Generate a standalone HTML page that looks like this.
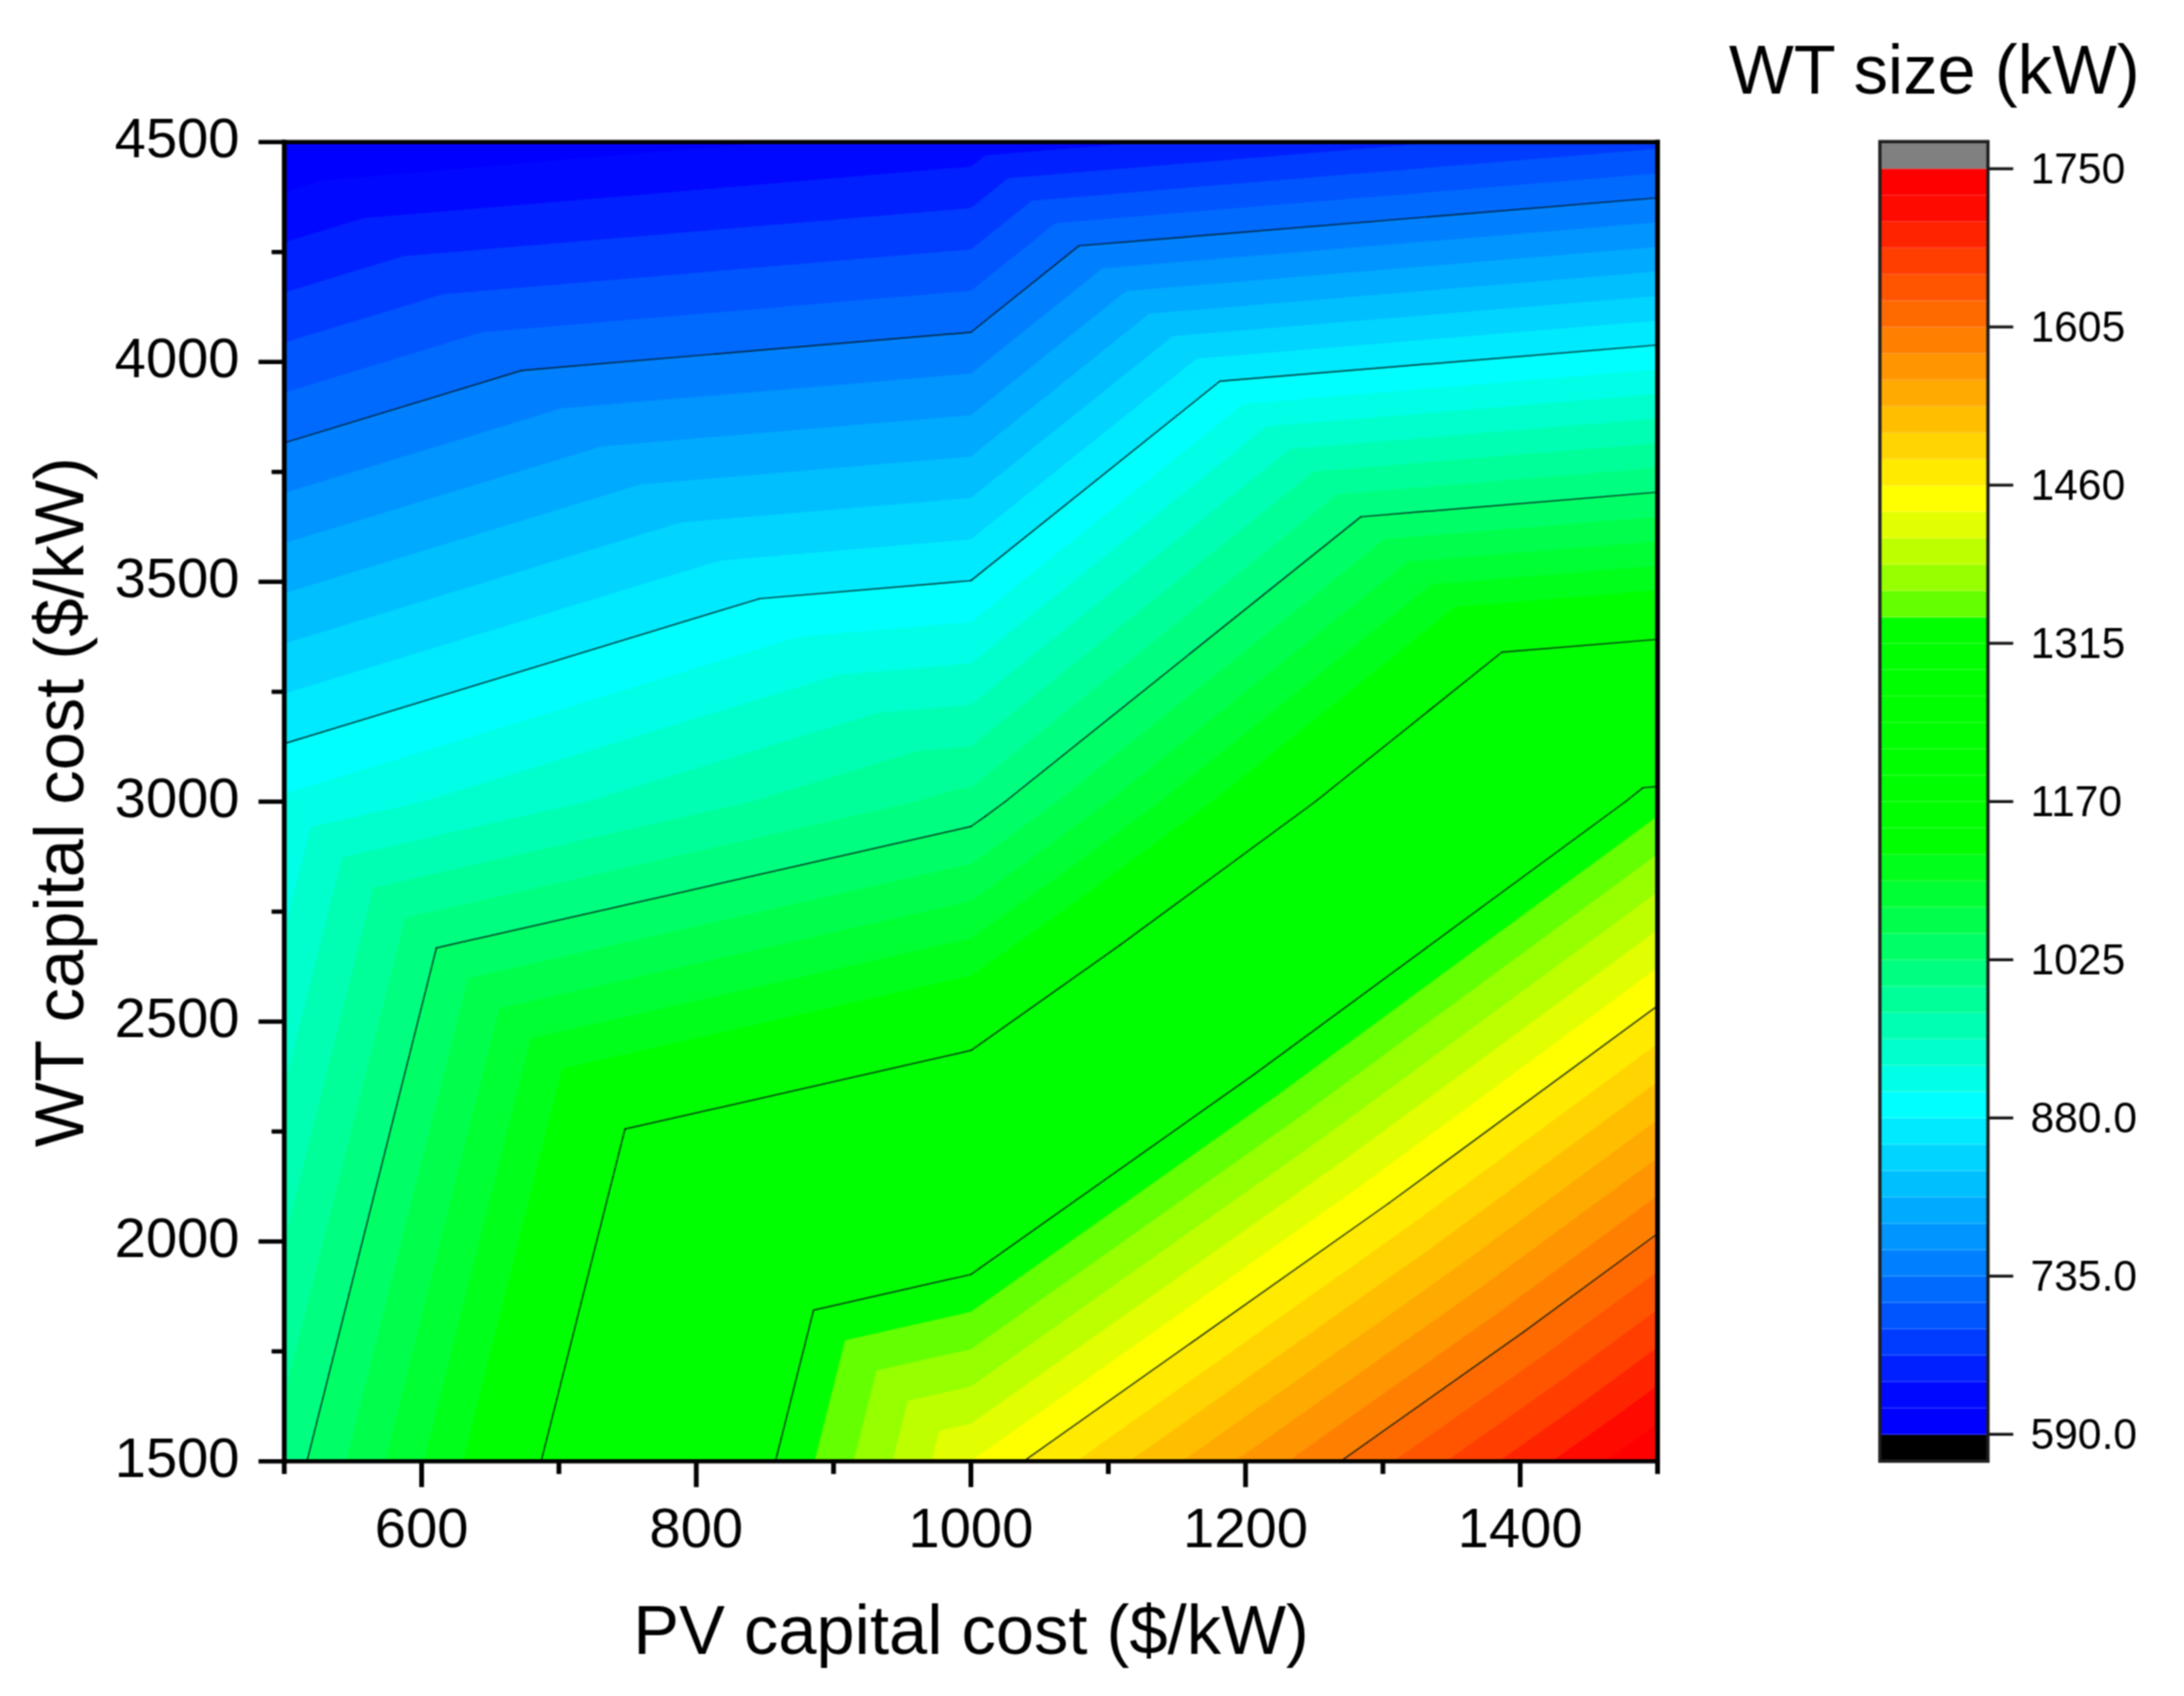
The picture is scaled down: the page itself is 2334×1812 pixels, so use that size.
<!DOCTYPE html>
<html lang="en">
<head>
<meta charset="utf-8">
<title>WT size contour plot</title>
<style>
html,body{margin:0;padding:0;background:#fff;}
body{width:2334px;height:1812px;overflow:hidden;}
svg{display:block;}
</style>
</head>
<body>
<svg width="2334" height="1812" viewBox="0 0 2334 1812">
<defs><filter id="soft" x="0" y="0" width="2334" height="1812" filterUnits="userSpaceOnUse" color-interpolation-filters="sRGB"><feConvolveMatrix order="3" kernelMatrix="1 2 1 2 4 2 1 2 1" divisor="16" edgeMode="duplicate" preserveAlpha="true"/></filter></defs>
<g filter="url(#soft)">
<rect width="2334" height="1812" fill="#fff"/>
<g>
<rect x="303.8" y="151.8" width="1467.6" height="1409.5" fill="#0000ff"/>
<path d="M303.8,1561.3 1037.6,1561.3 303.8,856.5ZM1037.6,1561.3 1037.6,856.5 303.8,856.5ZM303.8,856.5 1037.6,856.5 346.1,192.4 303.8,205.4ZM1037.6,856.5 1037.6,151.8 825.4,151.8 346.1,192.4ZM1037.6,1561.3 1771.4,1561.3 1037.6,856.5ZM1771.4,1561.3 1771.4,856.5 1037.6,856.5ZM1037.6,856.5 1771.4,856.5 1037.6,151.8ZM1771.4,856.5 1771.4,151.8 1037.6,151.8Z" fill="#0008ff"/>
<path d="M303.8,1561.3 1037.6,1561.3 303.8,856.5ZM1037.6,1561.3 1037.6,856.5 303.8,856.5ZM303.8,856.5 1037.6,856.5 388.4,233.1 303.8,258.9ZM1037.6,856.5 1037.6,178 388.4,233.1ZM1037.6,1561.3 1771.4,1561.3 1037.6,856.5ZM1771.4,1561.3 1771.4,856.5 1037.6,856.5ZM1037.6,856.5 1771.4,856.5 1052.5,166.1 1037.6,178ZM1771.4,856.5 1771.4,151.8 1225.4,151.8 1052.5,166.1Z" fill="#0020ff"/>
<path d="M303.8,1561.3 1037.6,1561.3 303.8,856.5ZM1037.6,1561.3 1037.6,856.5 303.8,856.5ZM303.8,856.5 1037.6,856.5 430.8,273.7 303.8,312.5ZM1037.6,856.5 1037.6,222.3 430.8,273.7ZM1037.6,1561.3 1771.4,1561.3 1037.6,856.5ZM1771.4,1561.3 1771.4,856.5 1037.6,856.5ZM1037.6,856.5 1771.4,856.5 1077.6,190.2 1037.6,222.3ZM1771.4,856.5 1771.4,151.8 1542.1,151.8 1077.6,190.2Z" fill="#003cff"/>
<path d="M303.8,1561.3 1037.6,1561.3 303.8,856.5ZM1037.6,1561.3 1037.6,856.5 303.8,856.5ZM303.8,856.5 1037.6,856.5 473.1,314.4 303.8,366ZM1037.6,856.5 1037.6,266.5 473.1,314.4ZM1037.6,1561.3 1771.4,1561.3 1037.6,856.5ZM1771.4,1561.3 1771.4,856.5 1037.6,856.5ZM1037.6,856.5 1771.4,856.5 1102.7,214.4 1037.6,266.5ZM1771.4,856.5 1771.4,159 1102.7,214.4Z" fill="#0055ff"/>
<path d="M303.8,1561.3 1037.6,1561.3 303.8,856.5ZM1037.6,1561.3 1037.6,856.5 303.8,856.5ZM303.8,856.5 1037.6,856.5 515.4,355 303.8,419.6ZM1037.6,856.5 1037.6,310.8 515.4,355ZM1037.6,1561.3 1771.4,1561.3 1037.6,856.5ZM1771.4,1561.3 1771.4,856.5 1037.6,856.5ZM1037.6,856.5 1771.4,856.5 1127.9,238.5 1037.6,310.8ZM1771.4,856.5 1771.4,185.2 1127.9,238.5Z" fill="#006aff"/>
<path d="M303.8,1561.3 1037.6,1561.3 303.8,856.5ZM1037.6,1561.3 1037.6,856.5 303.8,856.5ZM303.8,856.5 1037.6,856.5 557.7,395.7 303.8,473.1ZM1037.6,856.5 1037.6,355 557.7,395.7ZM1037.6,1561.3 1771.4,1561.3 1037.6,856.5ZM1771.4,1561.3 1771.4,856.5 1037.6,856.5ZM1037.6,856.5 1771.4,856.5 1153,262.6 1037.6,355ZM1771.4,856.5 1771.4,211.4 1153,262.6Z" fill="#0080ff"/>
<path d="M303.8,1561.3 1037.6,1561.3 303.8,856.5ZM1037.6,1561.3 1037.6,856.5 303.8,856.5ZM303.8,856.5 1037.6,856.5 600.1,436.3 303.8,526.7ZM1037.6,856.5 1037.6,399.2 600.1,436.3ZM1037.6,1561.3 1771.4,1561.3 1037.6,856.5ZM1771.4,1561.3 1771.4,856.5 1037.6,856.5ZM1037.6,856.5 1771.4,856.5 1178.1,286.7 1037.6,399.2ZM1771.4,856.5 1771.4,237.6 1178.1,286.7Z" fill="#0095ff"/>
<path d="M303.8,1561.3 1037.6,1561.3 303.8,856.5ZM1037.6,1561.3 1037.6,856.5 303.8,856.5ZM303.8,856.5 1037.6,856.5 642.4,477 303.8,580.3ZM1037.6,856.5 1037.6,443.5 642.4,477ZM1037.6,1561.3 1771.4,1561.3 1037.6,856.5ZM1771.4,1561.3 1771.4,856.5 1037.6,856.5ZM1037.6,856.5 1771.4,856.5 1203.2,310.9 1037.6,443.5ZM1771.4,856.5 1771.4,263.8 1203.2,310.9Z" fill="#00aaff"/>
<path d="M303.8,1561.3 1037.6,1561.3 303.8,856.5ZM1037.6,1561.3 1037.6,856.5 303.8,856.5ZM303.8,856.5 1037.6,856.5 684.7,517.6 303.8,633.8ZM1037.6,856.5 1037.6,487.7 684.7,517.6ZM1037.6,1561.3 1771.4,1561.3 1037.6,856.5ZM1771.4,1561.3 1771.4,856.5 1037.6,856.5ZM1037.6,856.5 1771.4,856.5 1228.3,335 1037.6,487.7ZM1771.4,856.5 1771.4,290 1228.3,335Z" fill="#00bfff"/>
<path d="M303.8,1561.3 1037.6,1561.3 303.8,856.5ZM1037.6,1561.3 1037.6,856.5 303.8,856.5ZM303.8,856.5 1037.6,856.5 727,558.3 303.8,687.4ZM1037.6,856.5 1037.6,531.9 727,558.3ZM1037.6,1561.3 1771.4,1561.3 1037.6,856.5ZM1771.4,1561.3 1771.4,856.5 1037.6,856.5ZM1037.6,856.5 1771.4,856.5 1253.4,359.1 1037.6,531.9ZM1771.4,856.5 1771.4,316.2 1253.4,359.1Z" fill="#00d4ff"/>
<path d="M303.8,1561.3 1037.6,1561.3 303.8,856.5ZM1037.6,1561.3 1037.6,856.5 303.8,856.5ZM303.8,856.5 1037.6,856.5 769.4,598.9 303.8,740.9ZM1037.6,856.5 1037.6,576.2 769.4,598.9ZM1037.6,1561.3 1771.4,1561.3 1037.6,856.5ZM1771.4,1561.3 1771.4,856.5 1037.6,856.5ZM1037.6,856.5 1771.4,856.5 1278.6,383.2 1037.6,576.2ZM1771.4,856.5 1771.4,342.4 1278.6,383.2Z" fill="#00eaff"/>
<path d="M303.8,1561.3 1037.6,1561.3 303.8,856.5ZM1037.6,1561.3 1037.6,856.5 303.8,856.5ZM303.8,856.5 1037.6,856.5 811.7,639.6 303.8,794.5ZM1037.6,856.5 1037.6,620.4 811.7,639.6ZM1037.6,1561.3 1771.4,1561.3 1037.6,856.5ZM1771.4,1561.3 1771.4,856.5 1037.6,856.5ZM1037.6,856.5 1771.4,856.5 1303.7,407.3 1037.6,620.4ZM1771.4,856.5 1771.4,368.6 1303.7,407.3Z" fill="#00ffff"/>
<path d="M303.8,1561.3 1037.6,1561.3 303.8,856.5ZM1037.6,1561.3 1037.6,856.5 303.8,856.5ZM303.8,856.5 1037.6,856.5 854,680.2 303.8,848.1ZM1037.6,856.5 1037.6,664.7 854,680.2ZM1037.6,1561.3 1771.4,1561.3 1037.6,856.5ZM1771.4,1561.3 1771.4,856.5 1037.6,856.5ZM1037.6,856.5 1771.4,856.5 1328.8,431.5 1037.6,664.7ZM1771.4,856.5 1771.4,394.8 1328.8,431.5Z" fill="#00ffe6"/>
<path d="M303.8,1561.3 1037.6,1561.3 332.1,883.7 303.8,995.7ZM1037.6,1561.3 1037.6,856.5 451.5,856.5 332.1,883.7ZM451.5,856.5 1037.6,856.5 896.3,720.9ZM1037.6,856.5 1037.6,708.9 896.3,720.9ZM1037.6,1561.3 1771.4,1561.3 1037.6,856.5ZM1771.4,1561.3 1771.4,856.5 1037.6,856.5ZM1037.6,856.5 1771.4,856.5 1353.9,455.6 1037.6,708.9ZM1771.4,856.5 1771.4,421.1 1353.9,455.6Z" fill="#00ffcc"/>
<path d="M303.8,1561.3 1037.6,1561.3 365.6,915.9 303.8,1161ZM1037.6,1561.3 1037.6,856.5 627.1,856.5 365.6,915.9ZM627.1,856.5 1037.6,856.5 938.7,761.5ZM1037.6,856.5 1037.6,753.1 938.7,761.5ZM1037.6,1561.3 1771.4,1561.3 1037.6,856.5ZM1771.4,1561.3 1771.4,856.5 1037.6,856.5ZM1037.6,856.5 1771.4,856.5 1379,479.7 1037.6,753.1ZM1771.4,856.5 1771.4,447.3 1379,479.7Z" fill="#00ffb2"/>
<path d="M303.8,1561.3 1037.6,1561.3 399.2,948.2 303.8,1326.4ZM1037.6,1561.3 1037.6,856.5 802.7,856.5 399.2,948.2ZM802.7,856.5 1037.6,856.5 981,802.2ZM1037.6,856.5 1037.6,797.4 981,802.2ZM1037.6,1561.3 1771.4,1561.3 1037.6,856.5ZM1771.4,1561.3 1771.4,856.5 1037.6,856.5ZM1037.6,856.5 1771.4,856.5 1404.2,503.8 1037.6,797.4ZM1771.4,856.5 1771.4,473.5 1404.2,503.8Z" fill="#00ff99"/>
<path d="M303.8,1561.3 1037.6,1561.3 432.8,980.5 303.8,1491.7ZM1037.6,1561.3 1037.6,856.5 978.3,856.5 432.8,980.5ZM978.3,856.5 1037.6,856.5 1023.3,842.8ZM1037.6,856.5 1037.6,841.6 1023.3,842.8ZM1037.6,1561.3 1771.4,1561.3 1037.6,856.5ZM1771.4,1561.3 1771.4,856.5 1037.6,856.5ZM1037.6,856.5 1771.4,856.5 1429.3,528 1037.6,841.6ZM1771.4,856.5 1771.4,499.7 1429.3,528Z" fill="#00ff80"/>
<path d="M328,1561.3 1037.6,1561.3 466.4,1012.7ZM1037.6,1561.3 1037.6,883 466.4,1012.7ZM1037.6,1561.3 1771.4,1561.3 1053.4,871.8 1037.6,883ZM1771.4,1561.3 1771.4,856.5 1074.2,856.5 1053.4,871.8ZM1074.2,856.5 1771.4,856.5 1454.4,552.1ZM1771.4,856.5 1771.4,525.9 1454.4,552.1Z" fill="#00ff66"/>
<path d="M369.7,1561.3 1037.6,1561.3 500,1045ZM1037.6,1561.3 1037.6,922.8 500,1045ZM1037.6,1561.3 1771.4,1561.3 1077.4,894.8 1037.6,922.8ZM1771.4,1561.3 1771.4,856.5 1129.4,856.5 1077.4,894.8ZM1129.4,856.5 1771.4,856.5 1479.5,576.2ZM1771.4,856.5 1771.4,552.1 1479.5,576.2Z" fill="#00ff4c"/>
<path d="M411.4,1561.3 1037.6,1561.3 533.6,1077.2ZM1037.6,1561.3 1037.6,962.7 533.6,1077.2ZM1037.6,1561.3 1771.4,1561.3 1101.3,917.7 1037.6,962.7ZM1771.4,1561.3 1771.4,856.5 1184.7,856.5 1101.3,917.7ZM1184.7,856.5 1771.4,856.5 1504.6,600.3ZM1771.4,856.5 1771.4,578.3 1504.6,600.3Z" fill="#00ff33"/>
<path d="M453.1,1561.3 1037.6,1561.3 567.2,1109.5ZM1037.6,1561.3 1037.6,1002.6 567.2,1109.5ZM1037.6,1561.3 1771.4,1561.3 1125.2,940.7 1037.6,1002.6ZM1771.4,1561.3 1771.4,856.5 1239.9,856.5 1125.2,940.7ZM1239.9,856.5 1771.4,856.5 1529.7,624.5ZM1771.4,856.5 1771.4,604.5 1529.7,624.5Z" fill="#00ff1a"/>
<path d="M494.9,1561.3 1037.6,1561.3 600.7,1141.7ZM1037.6,1561.3 1037.6,1042.5 600.7,1141.7ZM1037.6,1561.3 1771.4,1561.3 1149.2,963.7 1037.6,1042.5ZM1771.4,1561.3 1771.4,856.5 1295.2,856.5 1149.2,963.7ZM1295.2,856.5 1771.4,856.5 1554.9,648.6ZM1771.4,856.5 1771.4,630.7 1554.9,648.6Z" fill="#00ff00"/>
<path d="M536.6,1561.3 1037.6,1561.3 634.3,1174ZM1037.6,1561.3 1037.6,1082.4 634.3,1174ZM1037.6,1561.3 1771.4,1561.3 1173.1,986.7 1037.6,1082.4ZM1771.4,1561.3 1771.4,856.5 1350.4,856.5 1173.1,986.7ZM1350.4,856.5 1771.4,856.5 1580,672.7ZM1771.4,856.5 1771.4,656.9 1580,672.7Z" fill="#00ff00"/>
<path d="M578.3,1561.3 1037.6,1561.3 667.9,1206.3ZM1037.6,1561.3 1037.6,1122.3 667.9,1206.3ZM1037.6,1561.3 1771.4,1561.3 1197,1009.7 1037.6,1122.3ZM1771.4,1561.3 1771.4,856.5 1405.6,856.5 1197,1009.7ZM1405.6,856.5 1771.4,856.5 1605.1,696.8ZM1771.4,856.5 1771.4,683.1 1605.1,696.8Z" fill="#00ff00"/>
<path d="M620.1,1561.3 1037.6,1561.3 701.5,1238.5ZM1037.6,1561.3 1037.6,1162.2 701.5,1238.5ZM1037.6,1561.3 1771.4,1561.3 1221,1032.7 1037.6,1162.2ZM1771.4,1561.3 1771.4,856.5 1460.9,856.5 1221,1032.7ZM1460.9,856.5 1771.4,856.5 1630.2,721ZM1771.4,856.5 1771.4,709.3 1630.2,721Z" fill="#00ff00"/>
<path d="M661.8,1561.3 1037.6,1561.3 735.1,1270.8ZM1037.6,1561.3 1037.6,1202 735.1,1270.8ZM1037.6,1561.3 1771.4,1561.3 1244.9,1055.6 1037.6,1202ZM1771.4,1561.3 1771.4,856.5 1516.1,856.5 1244.9,1055.6ZM1516.1,856.5 1771.4,856.5 1655.3,745.1ZM1771.4,856.5 1771.4,735.5 1655.3,745.1Z" fill="#00ff00"/>
<path d="M703.5,1561.3 1037.6,1561.3 768.7,1303ZM1037.6,1561.3 1037.6,1241.9 768.7,1303ZM1037.6,1561.3 1771.4,1561.3 1268.8,1078.6 1037.6,1241.9ZM1771.4,1561.3 1771.4,856.5 1571.4,856.5 1268.8,1078.6ZM1571.4,856.5 1771.4,856.5 1680.5,769.2ZM1771.4,856.5 1771.4,761.7 1680.5,769.2Z" fill="#00ff00"/>
<path d="M745.2,1561.3 1037.6,1561.3 802.3,1335.3ZM1037.6,1561.3 1037.6,1281.8 802.3,1335.3ZM1037.6,1561.3 1771.4,1561.3 1292.8,1101.6 1037.6,1281.8ZM1771.4,1561.3 1771.4,856.5 1626.6,856.5 1292.8,1101.6ZM1626.6,856.5 1771.4,856.5 1705.6,793.3ZM1771.4,856.5 1771.4,787.9 1705.6,793.3Z" fill="#00ff00"/>
<path d="M787,1561.3 1037.6,1561.3 835.9,1367.5ZM1037.6,1561.3 1037.6,1321.7 835.9,1367.5ZM1037.6,1561.3 1771.4,1561.3 1316.7,1124.6 1037.6,1321.7ZM1771.4,1561.3 1771.4,856.5 1681.9,856.5 1316.7,1124.6ZM1681.9,856.5 1771.4,856.5 1730.7,817.5ZM1771.4,856.5 1771.4,814.1 1730.7,817.5Z" fill="#00ff00"/>
<path d="M828.7,1561.3 1037.6,1561.3 869.4,1399.8ZM1037.6,1561.3 1037.6,1361.6 869.4,1399.8ZM1037.6,1561.3 1771.4,1561.3 1340.6,1147.6 1037.6,1361.6ZM1771.4,1561.3 1771.4,856.5 1737.1,856.5 1340.6,1147.6ZM1737.1,856.5 1771.4,856.5 1755.8,841.6ZM1771.4,856.5 1771.4,840.3 1755.8,841.6Z" fill="#00ff00"/>
<path d="M870.4,1561.3 1037.6,1561.3 903,1432.1ZM1037.6,1561.3 1037.6,1401.5 903,1432.1ZM1037.6,1561.3 1771.4,1561.3 1364.6,1170.6 1037.6,1401.5ZM1771.4,1561.3 1771.4,871.9 1364.6,1170.6Z" fill="#64ff00"/>
<path d="M912.1,1561.3 1037.6,1561.3 936.6,1464.3ZM1037.6,1561.3 1037.6,1441.4 936.6,1464.3ZM1037.6,1561.3 1771.4,1561.3 1388.5,1193.5 1037.6,1441.4ZM1771.4,1561.3 1771.4,912.5 1388.5,1193.5Z" fill="#96ff00"/>
<path d="M953.9,1561.3 1037.6,1561.3 970.2,1496.6ZM1037.6,1561.3 1037.6,1481.3 970.2,1496.6ZM1037.6,1561.3 1771.4,1561.3 1412.4,1216.5 1037.6,1481.3ZM1771.4,1561.3 1771.4,953 1412.4,1216.5Z" fill="#beff00"/>
<path d="M995.6,1561.3 1037.6,1561.3 1003.8,1528.8ZM1037.6,1561.3 1037.6,1521.1 1003.8,1528.8ZM1037.6,1561.3 1771.4,1561.3 1436.4,1239.5 1037.6,1521.1ZM1771.4,1561.3 1771.4,993.6 1436.4,1239.5Z" fill="#e1ff00"/>
<path d="M1037.3,1561.3 1037.6,1561.3 1037.4,1561.1ZM1037.6,1561.3 1037.6,1561 1037.4,1561.1ZM1037.6,1561.3 1771.4,1561.3 1460.3,1262.5 1037.6,1561ZM1771.4,1561.3 1771.4,1034.1 1460.3,1262.5Z" fill="#ffff00"/>
<path d="M1093.7,1561.3 1771.4,1561.3 1484.2,1285.5ZM1771.4,1561.3 1771.4,1074.7 1484.2,1285.5Z" fill="#ffea00"/>
<path d="M1150.2,1561.3 1771.4,1561.3 1508.1,1308.5ZM1771.4,1561.3 1771.4,1115.2 1508.1,1308.5Z" fill="#ffd400"/>
<path d="M1206.6,1561.3 1771.4,1561.3 1532.1,1331.5ZM1771.4,1561.3 1771.4,1155.8 1532.1,1331.5Z" fill="#ffbf00"/>
<path d="M1263.1,1561.3 1771.4,1561.3 1556,1354.4ZM1771.4,1561.3 1771.4,1196.3 1556,1354.4Z" fill="#ffaa00"/>
<path d="M1319.6,1561.3 1771.4,1561.3 1579.9,1377.4ZM1771.4,1561.3 1771.4,1236.9 1579.9,1377.4Z" fill="#ff9500"/>
<path d="M1376.1,1561.3 1771.4,1561.3 1603.9,1400.4ZM1771.4,1561.3 1771.4,1277.4 1603.9,1400.4Z" fill="#ff8000"/>
<path d="M1432.5,1561.3 1771.4,1561.3 1627.8,1423.4ZM1771.4,1561.3 1771.4,1318 1627.8,1423.4Z" fill="#ff6a00"/>
<path d="M1489,1561.3 1771.4,1561.3 1651.7,1446.4ZM1771.4,1561.3 1771.4,1358.5 1651.7,1446.4Z" fill="#ff5500"/>
<path d="M1545.5,1561.3 1771.4,1561.3 1675.7,1469.4ZM1771.4,1561.3 1771.4,1399.1 1675.7,1469.4Z" fill="#ff3e00"/>
<path d="M1602,1561.3 1771.4,1561.3 1699.6,1492.3ZM1771.4,1561.3 1771.4,1439.6 1699.6,1492.3Z" fill="#ff2400"/>
<path d="M1658.4,1561.3 1771.4,1561.3 1723.5,1515.3ZM1771.4,1561.3 1771.4,1480.2 1723.5,1515.3Z" fill="#ff0a00"/>
<path d="M1714.9,1561.3 1771.4,1561.3 1747.5,1538.3ZM1771.4,1561.3 1771.4,1520.7 1747.5,1538.3Z" fill="#ff0000"/>
</g>
<g stroke="#001818" stroke-opacity="0.85" stroke-width="1.45" stroke-linecap="round">
<line x1="328" y1="1561.3" x2="466.4" y2="1012.7"/>
<line x1="578.3" y1="1561.3" x2="667.9" y2="1206.3"/>
<line x1="828.7" y1="1561.3" x2="869.4" y2="1399.8"/>
<line x1="1037.6" y1="883" x2="466.4" y2="1012.7"/>
<line x1="1037.6" y1="1122.3" x2="667.9" y2="1206.3"/>
<line x1="1037.6" y1="1361.6" x2="869.4" y2="1399.8"/>
<line x1="557.7" y1="395.7" x2="303.8" y2="473.1"/>
<line x1="811.7" y1="639.6" x2="303.8" y2="794.5"/>
<line x1="1037.6" y1="355" x2="557.7" y2="395.7"/>
<line x1="1037.6" y1="620.4" x2="811.7" y2="639.6"/>
<line x1="1053.4" y1="871.8" x2="1037.6" y2="883"/>
<line x1="1197" y1="1009.7" x2="1037.6" y2="1122.3"/>
<line x1="1340.6" y1="1147.6" x2="1037.6" y2="1361.6"/>
<line x1="1093.7" y1="1561.3" x2="1484.2" y2="1285.5"/>
<line x1="1432.5" y1="1561.3" x2="1627.8" y2="1423.4"/>
<line x1="1074.2" y1="856.5" x2="1053.4" y2="871.8"/>
<line x1="1405.6" y1="856.5" x2="1197" y2="1009.7"/>
<line x1="1737.1" y1="856.5" x2="1340.6" y2="1147.6"/>
<line x1="1771.4" y1="1074.7" x2="1484.2" y2="1285.5"/>
<line x1="1771.4" y1="1318" x2="1627.8" y2="1423.4"/>
<line x1="1153" y1="262.6" x2="1037.6" y2="355"/>
<line x1="1303.7" y1="407.3" x2="1037.6" y2="620.4"/>
<line x1="1074.2" y1="856.5" x2="1454.4" y2="552.1"/>
<line x1="1405.6" y1="856.5" x2="1605.1" y2="696.8"/>
<line x1="1737.1" y1="856.5" x2="1755.8" y2="841.6"/>
<line x1="1771.4" y1="211.4" x2="1153" y2="262.6"/>
<line x1="1771.4" y1="368.6" x2="1303.7" y2="407.3"/>
<line x1="1771.4" y1="525.9" x2="1454.4" y2="552.1"/>
<line x1="1771.4" y1="683.1" x2="1605.1" y2="696.8"/>
<line x1="1771.4" y1="840.3" x2="1755.8" y2="841.6"/>
</g>
<g stroke="#000" stroke-width="5.1">
<line x1="303.8" y1="149.5" x2="303.8" y2="1563.6"/>
<line x1="1771.4" y1="149.5" x2="1771.4" y2="1563.6"/>
<line x1="303.8" y1="1561.3" x2="303.8" y2="1574.8"/>
<line x1="450.6" y1="1561.3" x2="450.6" y2="1588.8"/>
<line x1="597.3" y1="1561.3" x2="597.3" y2="1574.8"/>
<line x1="744.1" y1="1561.3" x2="744.1" y2="1588.8"/>
<line x1="890.8" y1="1561.3" x2="890.8" y2="1574.8"/>
<line x1="1037.6" y1="1561.3" x2="1037.6" y2="1588.8"/>
<line x1="1184.4" y1="1561.3" x2="1184.4" y2="1574.8"/>
<line x1="1331.1" y1="1561.3" x2="1331.1" y2="1588.8"/>
<line x1="1477.9" y1="1561.3" x2="1477.9" y2="1574.8"/>
<line x1="1624.6" y1="1561.3" x2="1624.6" y2="1588.8"/>
<line x1="1771.4" y1="1561.3" x2="1771.4" y2="1574.8"/>
</g>
<g stroke="#000" stroke-width="4.6">
<line x1="301.2" y1="151.8" x2="1774" y2="151.8"/>
<line x1="301.2" y1="1561.3" x2="1774" y2="1561.3"/>
<line x1="303.8" y1="1561.3" x2="276.3" y2="1561.3"/>
<line x1="303.8" y1="1443.8" x2="290.3" y2="1443.8"/>
<line x1="303.8" y1="1326.4" x2="276.3" y2="1326.4"/>
<line x1="303.8" y1="1208.9" x2="290.3" y2="1208.9"/>
<line x1="303.8" y1="1091.5" x2="276.3" y2="1091.5"/>
<line x1="303.8" y1="974" x2="290.3" y2="974"/>
<line x1="303.8" y1="856.5" x2="276.3" y2="856.5"/>
<line x1="303.8" y1="739.1" x2="290.3" y2="739.1"/>
<line x1="303.8" y1="621.6" x2="276.3" y2="621.6"/>
<line x1="303.8" y1="504.2" x2="290.3" y2="504.2"/>
<line x1="303.8" y1="386.7" x2="276.3" y2="386.7"/>
<line x1="303.8" y1="269.3" x2="290.3" y2="269.3"/>
<line x1="303.8" y1="151.8" x2="276.3" y2="151.8"/>
</g>
<g font-family="'Liberation Sans', sans-serif" font-size="60" fill="#000">
<text x="450.6" y="1652.5" text-anchor="middle">600</text>
<text x="744.1" y="1652.5" text-anchor="middle">800</text>
<text x="1037.6" y="1652.5" text-anchor="middle">1000</text>
<text x="1331.1" y="1652.5" text-anchor="middle">1200</text>
<text x="1624.6" y="1652.5" text-anchor="middle">1400</text>
<text x="256" y="1577.8" text-anchor="end">1500</text>
<text x="256" y="1342.9" text-anchor="end">2000</text>
<text x="256" y="1108" text-anchor="end">2500</text>
<text x="256" y="873" text-anchor="end">3000</text>
<text x="256" y="638.1" text-anchor="end">3500</text>
<text x="256" y="403.2" text-anchor="end">4000</text>
<text x="256" y="168.3" text-anchor="end">4500</text>
</g>
<g font-family="'Liberation Sans', sans-serif" font-size="73.4" fill="#000">
<text x="1037.7" y="1767" text-anchor="middle">PV capital cost ($/kW)</text>
<text transform="translate(88.5 857) rotate(-90)" text-anchor="middle">WT capital cost ($/kW)</text>
<text x="2067.2" y="99.5" text-anchor="middle">WT size (kW)</text>
</g>
<rect x="2009" y="151.3" width="115.5" height="30" fill="#808080"/>
<rect x="2009" y="1532.4" width="115.5" height="28.7" fill="#000"/>
<rect x="2009" y="1504.23" width="115.5" height="28.77" fill="#0000ff"/>
<rect x="2009" y="1476.06" width="115.5" height="28.77" fill="#0008ff"/>
<rect x="2009" y="1447.89" width="115.5" height="28.77" fill="#0020ff"/>
<rect x="2009" y="1419.73" width="115.5" height="28.77" fill="#003cff"/>
<rect x="2009" y="1391.56" width="115.5" height="28.77" fill="#0055ff"/>
<rect x="2009" y="1363.39" width="115.5" height="28.77" fill="#006aff"/>
<rect x="2009" y="1335.22" width="115.5" height="28.77" fill="#0080ff"/>
<rect x="2009" y="1307.05" width="115.5" height="28.77" fill="#0095ff"/>
<rect x="2009" y="1278.88" width="115.5" height="28.77" fill="#00aaff"/>
<rect x="2009" y="1250.71" width="115.5" height="28.77" fill="#00bfff"/>
<rect x="2009" y="1222.54" width="115.5" height="28.77" fill="#00d4ff"/>
<rect x="2009" y="1194.38" width="115.5" height="28.77" fill="#00eaff"/>
<rect x="2009" y="1166.21" width="115.5" height="28.77" fill="#00ffff"/>
<rect x="2009" y="1138.04" width="115.5" height="28.77" fill="#00ffe6"/>
<rect x="2009" y="1109.87" width="115.5" height="28.77" fill="#00ffcc"/>
<rect x="2009" y="1081.70" width="115.5" height="28.77" fill="#00ffb2"/>
<rect x="2009" y="1053.53" width="115.5" height="28.77" fill="#00ff99"/>
<rect x="2009" y="1025.36" width="115.5" height="28.77" fill="#00ff80"/>
<rect x="2009" y="997.19" width="115.5" height="28.77" fill="#00ff66"/>
<rect x="2009" y="969.03" width="115.5" height="28.77" fill="#00ff4c"/>
<rect x="2009" y="940.86" width="115.5" height="28.77" fill="#00ff33"/>
<rect x="2009" y="912.69" width="115.5" height="28.77" fill="#00ff1a"/>
<rect x="2009" y="884.52" width="115.5" height="28.77" fill="#00ff00"/>
<rect x="2009" y="856.35" width="115.5" height="28.77" fill="#00ff00"/>
<rect x="2009" y="828.18" width="115.5" height="28.77" fill="#00ff00"/>
<rect x="2009" y="800.01" width="115.5" height="28.77" fill="#00ff00"/>
<rect x="2009" y="771.84" width="115.5" height="28.77" fill="#00ff00"/>
<rect x="2009" y="743.67" width="115.5" height="28.77" fill="#00ff00"/>
<rect x="2009" y="715.51" width="115.5" height="28.77" fill="#00ff00"/>
<rect x="2009" y="687.34" width="115.5" height="28.77" fill="#00ff00"/>
<rect x="2009" y="659.17" width="115.5" height="28.77" fill="#00ff00"/>
<rect x="2009" y="631.00" width="115.5" height="28.77" fill="#64ff00"/>
<rect x="2009" y="602.83" width="115.5" height="28.77" fill="#96ff00"/>
<rect x="2009" y="574.66" width="115.5" height="28.77" fill="#beff00"/>
<rect x="2009" y="546.49" width="115.5" height="28.77" fill="#e1ff00"/>
<rect x="2009" y="518.33" width="115.5" height="28.77" fill="#ffff00"/>
<rect x="2009" y="490.16" width="115.5" height="28.77" fill="#ffea00"/>
<rect x="2009" y="461.99" width="115.5" height="28.77" fill="#ffd400"/>
<rect x="2009" y="433.82" width="115.5" height="28.77" fill="#ffbf00"/>
<rect x="2009" y="405.65" width="115.5" height="28.77" fill="#ffaa00"/>
<rect x="2009" y="377.48" width="115.5" height="28.77" fill="#ff9500"/>
<rect x="2009" y="349.31" width="115.5" height="28.77" fill="#ff8000"/>
<rect x="2009" y="321.14" width="115.5" height="28.77" fill="#ff6a00"/>
<rect x="2009" y="292.97" width="115.5" height="28.77" fill="#ff5500"/>
<rect x="2009" y="264.81" width="115.5" height="28.77" fill="#ff3e00"/>
<rect x="2009" y="236.64" width="115.5" height="28.77" fill="#ff2400"/>
<rect x="2009" y="208.47" width="115.5" height="28.77" fill="#ff0a00"/>
<rect x="2009" y="180.30" width="115.5" height="28.77" fill="#ff0000"/>
<path d="M2009,1532.40H2124.5M2009,1504.23H2124.5M2009,1476.06H2124.5M2009,1447.89H2124.5M2009,1419.73H2124.5M2009,1391.56H2124.5M2009,1363.39H2124.5M2009,1335.22H2124.5M2009,1307.05H2124.5M2009,1278.88H2124.5M2009,1250.71H2124.5M2009,1222.54H2124.5M2009,1194.38H2124.5M2009,1166.21H2124.5M2009,1138.04H2124.5M2009,1109.87H2124.5M2009,1081.70H2124.5M2009,1053.53H2124.5M2009,1025.36H2124.5M2009,997.19H2124.5M2009,969.03H2124.5M2009,940.86H2124.5M2009,912.69H2124.5M2009,884.52H2124.5M2009,856.35H2124.5M2009,828.18H2124.5M2009,800.01H2124.5M2009,771.84H2124.5M2009,743.67H2124.5M2009,715.51H2124.5M2009,687.34H2124.5M2009,659.17H2124.5M2009,631.00H2124.5M2009,602.83H2124.5M2009,574.66H2124.5M2009,546.49H2124.5M2009,518.33H2124.5M2009,490.16H2124.5M2009,461.99H2124.5M2009,433.82H2124.5M2009,405.65H2124.5M2009,377.48H2124.5M2009,349.31H2124.5M2009,321.14H2124.5M2009,292.97H2124.5M2009,264.81H2124.5M2009,236.64H2124.5M2009,208.47H2124.5M2009,180.30H2124.5" stroke="#fff" stroke-opacity="0.22" stroke-width="1" fill="none"/>
<rect x="2009" y="151.3" width="115.5" height="1409.8" fill="none" stroke="#1e1e1e" stroke-width="3.5"/>
<g stroke="#1a1a1a" stroke-width="3.2">
<line x1="2124.5" y1="1532.4" x2="2151.5" y2="1532.4"/>
<line x1="2124.5" y1="1363.4" x2="2151.5" y2="1363.4"/>
<line x1="2124.5" y1="1194.4" x2="2151.5" y2="1194.4"/>
<line x1="2124.5" y1="1025.4" x2="2151.5" y2="1025.4"/>
<line x1="2124.5" y1="856.4" x2="2151.5" y2="856.4"/>
<line x1="2124.5" y1="687.3" x2="2151.5" y2="687.3"/>
<line x1="2124.5" y1="518.3" x2="2151.5" y2="518.3"/>
<line x1="2124.5" y1="349.3" x2="2151.5" y2="349.3"/>
<line x1="2124.5" y1="180.3" x2="2151.5" y2="180.3"/>
</g>
<g font-family="'Liberation Sans', sans-serif" font-size="45.5" fill="#000">
<text x="2170" y="1548.4">590.0</text>
<text x="2170" y="1379.4">735.0</text>
<text x="2170" y="1210.4">880.0</text>
<text x="2170" y="1041.4">1025</text>
<text x="2170" y="872.4">1170</text>
<text x="2170" y="703.3">1315</text>
<text x="2170" y="534.3">1460</text>
<text x="2170" y="365.3">1605</text>
<text x="2170" y="196.3">1750</text>
</g>
</g>
</svg>
</body>
</html>
